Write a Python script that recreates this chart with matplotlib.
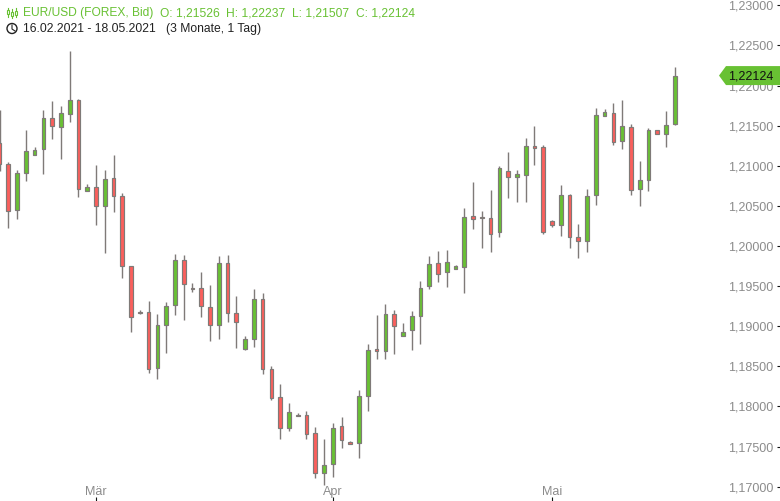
import matplotlib
matplotlib.use('Agg')
import matplotlib.pyplot as plt
import numpy as np
from matplotlib.patches import Circle, Polygon

plt.rcParams['font.family'] = ['Liberation Sans', 'DejaVu Sans']

# daily candles
opens = [1.21280, 1.21018, 1.20445, 1.20906, 1.21130, 1.21205, 1.21591, 1.21479, 1.21641, 1.21815,
         1.20682, 1.20731, 1.20495, 1.20844, 1.20619, 1.19747, 1.19174, 1.19174, 1.18476, 1.19012,
         1.19261, 1.19822, 1.19473, 1.19473, 1.19236, 1.19012, 1.19784, 1.19161, 1.18713, 1.18837,
         1.19336, 1.18464, 1.18115, 1.17729, 1.17890, 1.17890, 1.17666, 1.17168, 1.17280, 1.17753,
         1.17554, 1.17542, 1.18127, 1.18713, 1.18688, 1.19149, 1.18875, 1.18950, 1.19124, 1.19498,
         1.19784, 1.19672, 1.19710, 1.19735, 1.20370, 1.20358, 1.20345, 1.20171, 1.20931, 1.20856,
         1.20881, 1.21242, 1.21230, 1.20308, 1.20258, 1.20632, 1.20108, 1.20059, 1.20632, 1.21616,
         1.21653, 1.21305, 1.21479, 1.20706, 1.20819, 1.21442, 1.21392, 1.21526]
highs = [1.21695, 1.21050, 1.20947, 1.21446, 1.21234, 1.21695, 1.21807, 1.21744, 1.22430, 1.21832,
         1.20769, 1.21009, 1.20947, 1.21134, 1.20657, 1.19747, 1.19203, 1.19315, 1.19153, 1.19302,
         1.19900, 1.19888, 1.19539, 1.19672, 1.19510, 1.19875, 1.19888, 1.19373, 1.18879, 1.19460,
         1.19411, 1.18501, 1.18277, 1.18040, 1.17915, 1.17940, 1.17745, 1.17595, 1.17791, 1.17866,
         1.17566, 1.18202, 1.18775, 1.19140, 1.19277, 1.19199, 1.19041, 1.19186, 1.19560, 1.19875,
         1.19938, 1.19946, 1.19760, 1.20470, 1.20798, 1.20432, 1.20698, 1.20993, 1.21168, 1.20943,
         1.21342, 1.21495, 1.21255, 1.20320, 1.20756, 1.20644, 1.20274, 1.20706, 1.21716, 1.21703,
         1.21778, 1.21819, 1.21516, 1.21055, 1.21467, 1.21442, 1.21678, 1.22237]
lows = [1.20935, 1.20228, 1.20340, 1.20814, 1.21130, 1.20901, 1.21337, 1.21088, 1.21549, 1.20614,
        1.20682, 1.20265, 1.19917, 1.20427, 1.19605, 1.18932, 1.19153, 1.18421, 1.18343, 1.18671,
        1.19144, 1.19082, 1.19431, 1.19119, 1.18820, 1.18845, 1.19057, 1.18733, 1.18700, 1.18745,
        1.18409, 1.18085, 1.17599, 1.17699, 1.17882, 1.17599, 1.17113, 1.17026, 1.17126, 1.17487,
        1.17529, 1.17362, 1.17948, 1.18596, 1.18596, 1.18658, 1.18875, 1.18708, 1.18783, 1.19468,
        1.19555, 1.19493, 1.19710, 1.19418, 1.20216, 1.19979, 1.19929, 1.20116, 1.20602, 1.20552,
        1.20552, 1.21013, 1.20153, 1.20240, 1.20128, 1.19979, 1.19854, 1.19929, 1.20515, 1.21616,
        1.21262, 1.21212, 1.20639, 1.20502, 1.20689, 1.21392, 1.21237, 1.21507]
closes = [1.21018, 1.20432, 1.20906, 1.21180, 1.21193, 1.21591, 1.21491, 1.21653, 1.21815, 1.20706,
          1.20731, 1.20495, 1.20831, 1.20619, 1.19747, 1.19112, 1.19161, 1.18464, 1.19012, 1.19249,
          1.19822, 1.19523, 1.19470, 1.19249, 1.19012, 1.19784, 1.19161, 1.19049, 1.18837, 1.19336,
          1.18464, 1.18102, 1.17729, 1.17928, 1.17882, 1.17654, 1.17168, 1.17268, 1.17729, 1.17579,
          1.17529, 1.18127, 1.18700, 1.18688, 1.19149, 1.19000, 1.18925, 1.19124, 1.19473, 1.19772,
          1.19647, 1.19797, 1.19747, 1.20358, 1.20333, 1.20345, 1.20146, 1.20968, 1.20856, 1.20893,
          1.21242, 1.21217, 1.20171, 1.20258, 1.20632, 1.20108, 1.20059, 1.20619, 1.21628, 1.21666,
          1.21292, 1.21491, 1.20694, 1.20819, 1.21442, 1.21392, 1.21504, 1.22124]

month_pos = [11, 38, 63]
month_labels = ['Mär', 'Apr', 'Mai']
price_ticks = [1.17, 1.175, 1.18, 1.185, 1.19, 1.195, 1.20, 1.205, 1.21, 1.215, 1.22, 1.225, 1.23]

GREEN = '#68c133'
RED = '#fb5f5c'
WICK = '#7f7a78'
LABEL = '#8c8c8c'

fig = plt.figure(figsize=(7.8, 5.01), dpi=100)
ax = fig.add_axes([0, 0, 1, 1])

x = np.arange(len(opens))
opens = np.array(opens)
closes = np.array(closes)
colors = [GREEN if c >= o else RED for o, c in zip(opens, closes)]

ax.vlines(x, lows, highs, color=WICK, linewidth=1.0, zorder=2)
ax.bar(x, closes - opens, bottom=opens, width=0.42, color=colors,
       edgecolor=WICK, linewidth=0.85, zorder=3)

ax.set_xlim(0.054, 89.0)
ax.set_ylim(1.16822, 1.23066)

for s in ax.spines.values():
    s.set_visible(False)

ax.yaxis.tick_right()
ax.set_yticks(price_ticks)
ax.set_yticklabels([('%.5f' % p).replace('.', ',') for p in price_ticks])
ax.tick_params(axis='y', direction='in', length=2.4, width=0.8, color='#111111',
               pad=-5, labelsize=9, labelcolor=LABEL)
for t in ax.get_yticklabels():
    t.set_ha('right')
    t.set_va('center_baseline')

ax.set_xticks(month_pos)
ax.set_xticklabels(month_labels)
ax.tick_params(axis='x', direction='in', length=3, width=0.8, color='#111111',
               pad=-11, labelsize=9, labelcolor=LABEL)

# overlay in pixel coordinates for header and price tag
ov = fig.add_axes([0, 0, 1, 1])
ov.set_xlim(0, 780)
ov.set_ylim(501, 0)
ov.axis('off')
ov.patch.set_alpha(0)

for xt, s in zip([23, 160, 226, 292, 356],
                 ['EUR/USD (FOREX, Bid)', 'O: 1,21526', 'H: 1,22237', 'L: 1,21507', 'C: 1,22124']):
    ov.text(xt, 13, s, color=GREEN, fontsize=8.65, va='center', ha='left')
ov.text(23, 29, '16.02.2021 - 18.05.2021', color='#222222', fontsize=8.75, va='center', ha='left')
ov.text(166, 29, '(3 Monate, 1 Tag)', color='#222222', fontsize=8.75, va='center', ha='left')

# candle icon
for xi, y0, y1, b0, b1 in [(7.5, 8, 17, 10, 14), (11.5, 9, 18, 12, 16), (15.5, 8, 17, 11, 15)]:
    ov.plot([xi, xi], [y0, y1], color=GREEN, lw=0.8)
    ov.add_patch(plt.Rectangle((xi - 1, b0), 2, b1 - b0, fc='white', ec=GREEN, lw=0.8, zorder=3))

# clock icon
ov.add_patch(Circle((12, 28.5), 5, fc='none', ec='#222222', lw=1.0))
ov.plot([12, 12, 15], [25, 29, 31], color='#222222', lw=0.8)

# last price tag
fig.canvas.draw()
tag_y = 501 - ax.transData.transform((0, closes[-1]))[1]
ov.add_patch(Polygon([(719, tag_y), (726, tag_y - 9.5), (780, tag_y - 9.5),
                      (780, tag_y + 9.5), (726, tag_y + 9.5)], closed=True, fc=GREEN, ec='none'))
ov.text(773.5, tag_y + 0.5, ('%.5f' % closes[-1]).replace('.', ','), color='#111111',
        fontsize=9, va='center', ha='right')

fig.savefig('out.png', dpi=100)
